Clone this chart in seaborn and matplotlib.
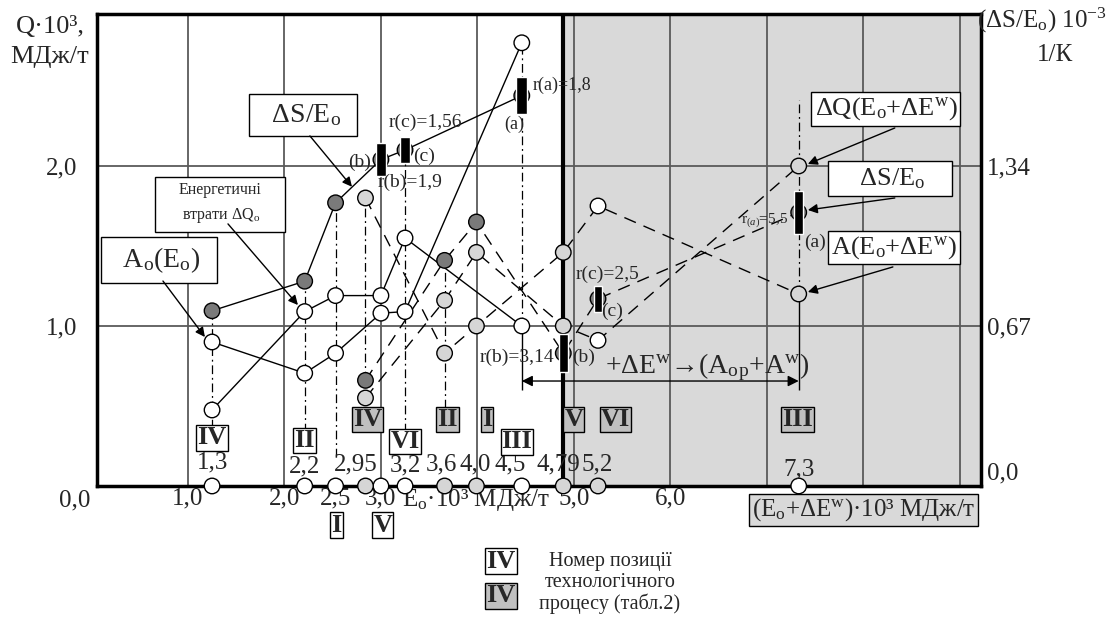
import pandas as pd
import matplotlib
matplotlib.use('Agg')
import matplotlib.pyplot as plt
import seaborn as sns

# E0*10^3 positions of the processes as drawn on the chart
e_base = [1.25, 2.21, 2.53, 3.0, 3.25, 4.46]      # white labelled processes
e_wind = [2.84, 3.66, 3.99, 4.89, 5.25, 7.33]     # grey labelled (E0 + dEw)
roman = ['IV', 'II', 'I', 'V', 'VI', 'III']
lbl_base = ['1,3', '2,2', '2,5', '3,0', '3,2', '4,5']
lbl_wind = ['2,95', '3,6', '4,0', '4,79', '5,2', '7,3']

# Q*10^3 values (left scale)
ds_base = [1.095, 1.28, 1.77, 2.04, 2.10, 2.44]
dq_base = [0.475, 1.09, 1.19, 1.19, 1.55, 1.00]
a_base = [0.90, 0.705, 0.83, 1.08, 1.09, 2.77]

ds_wind = [0.66, 1.41, 1.65, 0.83, 1.17, 1.71]
dq_wind = [0.55, 1.16, 1.46, 1.00, 0.91, 2.00]
a_wind = [1.80, 0.83, 1.00, 1.46, 1.75, 1.20]

# r markers (black bars) on the last three points of each dS series
bar_h_base = [0.21, 0.16, 0.23]
bar_h_wind = [0.24, 0.16, 0.27]

right_ticks = [0.67, 1.34]

sns.set_style('white')
plt.rcParams['font.family'] = ['Liberation Serif', 'DejaVu Serif']
plt.rcParams['mathtext.fontset'] = 'custom'
plt.rcParams['mathtext.rm'] = 'Liberation Serif'
plt.rcParams['mathtext.it'] = 'Liberation Serif:italic'
plt.rcParams['mathtext.bf'] = 'Liberation Serif:bold'

EO = r'E$_\mathrm{o}$'
DEW = r'$\Delta$E$^\mathrm{w}$'

fig = plt.figure(figsize=(11.17, 6.19), dpi=100)
ax = fig.add_axes([0.0868, 0.2149, 0.7915, 0.7625])
ax.set_xlim(0.057, 9.22)
ax.set_ylim(0, 2.95)

# shaded (E0 + dEw) area
ax.axvspan(4.89, 9.22, color='#d9d9d9', zorder=0, lw=0)
ax.axvline(4.89, color='black', lw=3, zorder=2)
for gx in range(1, 10):
    ax.axvline(gx, color='#5a5a5a', lw=1.3, zorder=1)
for gy in [1, 2]:
    ax.axhline(gy, color='#5a5a5a', lw=1.3, zorder=1)

# series lines
lines = pd.concat([
    pd.DataFrame({'E': e_base, 'Q': ds_base, 'ser': 'ds_base'}),
    pd.DataFrame({'E': e_base, 'Q': dq_base, 'ser': 'dq_base'}),
    pd.DataFrame({'E': e_base, 'Q': a_base, 'ser': 'a_base'}),
    pd.DataFrame({'E': e_wind, 'Q': ds_wind, 'ser': 'ds_wind'}),
    pd.DataFrame({'E': e_wind, 'Q': dq_wind, 'ser': 'dq_wind'}),
    pd.DataFrame({'E': e_wind, 'Q': a_wind, 'ser': 'a_wind'}),
])
for name, sub in lines.groupby('ser'):
    ls = '-' if name.endswith('base') else (0, (9, 6))
    sns.lineplot(data=sub, x='E', y='Q', ax=ax, color='black', lw=1,
                 linestyle=ls, estimator=None, sort=False, zorder=3)

# vertical dash-dot stems
stem_low_base = [0.36, 0.34, 0.18, None, 0.34, 1.0]
stem_low_wind = [0.66, 0.49, None, None, None, 1.2]
for x, top, low in zip(e_base, [max(v) for v in zip(ds_base, dq_base, a_base)], stem_low_base):
    if low is not None:
        ax.vlines(x, low, top, color='black', lw=0.9, linestyles=[(0, (7, 3, 1.5, 3))], zorder=2)
for x, top, low in zip(e_wind, [max(v) for v in zip(ds_wind, dq_wind, a_wind)], stem_low_wind):
    if low is not None:
        if x > 7:
            top = 2.41
        ax.vlines(x, low, top, color='black', lw=0.9, linestyles=[(0, (7, 3, 1.5, 3))], zorder=2)
ax.vlines([e_base[-1], e_wind[-1]], 0.6, [dq_base[-1], a_wind[-1]], color='black', lw=1, zorder=2)

# markers
fill_wind = ['light', 'light', 'light', 'light', 'white', 'light']
pts = pd.concat([
    pd.DataFrame({'E': e_base, 'Q': ds_base, 'fill': 'dark'}),
    pd.DataFrame({'E': e_base, 'Q': dq_base, 'fill': 'white'}),
    pd.DataFrame({'E': e_base, 'Q': a_base, 'fill': 'white'}),
    pd.DataFrame({'E': e_wind, 'Q': ds_wind, 'fill': 'dark'}),
    pd.DataFrame({'E': e_wind, 'Q': dq_wind, 'fill': fill_wind}),
    pd.DataFrame({'E': e_wind, 'Q': a_wind, 'fill': fill_wind}),
    pd.DataFrame({'E': e_base, 'Q': 0.0, 'fill': 'white'}),
    pd.DataFrame({'E': e_wind, 'Q': 0.0, 'fill': ['light'] * 5 + ['white']}),
])
pal = {'dark': '#7a7a7a', 'light': '#d6d6d6', 'white': 'white'}
sns.scatterplot(data=pts, x='E', y='Q', hue='fill', palette=pal, ax=ax, s=125,
                edgecolor='black', linewidth=1, legend=False, zorder=5, clip_on=False)

# r bars
ax.bar(e_base[3:], bar_h_base, bottom=[y - h / 2 for y, h in zip(ds_base[3:], bar_h_base)],
       width=0.11, color='black', zorder=6)
ax.bar(e_wind[3:], bar_h_wind, bottom=[y - h / 2 for y, h in zip(ds_wind[3:], bar_h_wind)],
       width=0.09, color='black', zorder=6)

rs = 14
ax.text(4.575, 2.506, 'r(a)=1,8', fontsize=13, ha='left', va='center', zorder=7)
ax.text(4.378, 2.26, '(a)', fontsize=13, ha='center', va='center', zorder=7)
ax.text(3.456, 2.275, 'r(c)=1,56', fontsize=rs, ha='center', va='center', zorder=7)
ax.text(2.782, 2.02, '(b)', fontsize=rs, ha='center', va='center', zorder=7)
ax.text(3.446, 2.06, '(c)', fontsize=rs, ha='center', va='center', zorder=7)
ax.text(3.30, 1.90, 'r(b)=1,9', fontsize=rs, ha='center', va='center', zorder=7)
ax.text(5.352, 1.325, 'r(c)=2,5', fontsize=rs, ha='center', va='center', zorder=7)
ax.text(5.394, 1.09, '(c)', fontsize=rs, ha='center', va='center', zorder=7)
ax.text(4.41, 0.806, 'r(b)=3,14', fontsize=rs, ha='center', va='center', zorder=7)
ax.text(5.10, 0.806, '(b)', fontsize=rs, ha='center', va='center', zorder=7)
ax.text(6.98, 1.66, r'r$_{(a)}$=5,5', fontsize=11, ha='center', va='center', zorder=7)
ax.text(7.497, 1.52, '(a)', fontsize=rs, ha='center', va='center', zorder=7)
ax.text(5.32, 0.745, '+' + DEW + '→(A$_\\mathrm{o}$$_\\mathrm{p}$+A$^\\mathrm{w}$)',
        fontsize=20, ha='left', va='center', zorder=7)
ax.annotate('', xy=(e_base[-1], 0.656), xytext=(e_wind[-1], 0.656),
            arrowprops=dict(arrowstyle='<|-|>', color='black', lw=1, mutation_scale=16,
                            shrinkA=0, shrinkB=0), zorder=7)

# roman process boxes
box_w = dict(boxstyle='square,pad=0.04', fc='white', ec='black', lw=1)
box_g = dict(boxstyle='square,pad=0.04', fc='#c0c0c0', ec='black', lw=1)
y_base_box = [0.30, 0.285, -0.244, -0.244, 0.28, 0.275]
dx_base_box = [0, 0, 0.01, 0.02, 0, -0.05]
for x, r, yb, dx in zip(e_base, roman, y_base_box, dx_base_box):
    ax.text(x + dx, yb, r, fontsize=19, fontweight='bold', ha='center', va='center',
            bbox=box_w, zorder=8)
dx_wind_box = [0.02, 0.03, 0.11, 0.11, 0.18, -0.01]
for x, r, dx in zip(e_wind, roman, dx_wind_box):
    ax.text(x + dx, 0.415, r, fontsize=19, fontweight='bold', ha='center', va='center',
            bbox=box_g, zorder=8)

# value labels above the axis
dx_base_lbl = [0, 0, None, None, 0, -0.12]
y_base_lbl = [0.15, 0.125, None, None, 0.13, 0.135]
for x, t, dx, yl in zip(e_base, lbl_base, dx_base_lbl, y_base_lbl):
    if dx is not None:
        ax.text(x + dx, yl, t, fontsize=18, ha='center', va='center', zorder=7)
dx_wind_lbl = [-0.1, -0.03, -0.01, -0.05, -0.01, 0]
for x, t, dx in zip(e_wind, lbl_wind, dx_wind_lbl):
    ax.text(x + dx, 0.135 if x < 7 else 0.105, t, fontsize=18, ha='center', va='center', zorder=7)

# series label boxes with arrows
lab_box = dict(boxstyle='square,pad=0.3', fc='white', ec='black', lw=1)
arr = dict(arrowstyle='-|>', color='black', lw=1, mutation_scale=14, shrinkA=0, shrinkB=0)
ax.text(2.197, 2.319, '  $\\Delta$S/' + EO + '  ', fontsize=20, ha='center', va='center', bbox=lab_box, zorder=8)
ax.annotate('', xy=(2.70, 1.87), xytext=(2.264, 2.188), arrowprops=arr, zorder=8)
ax.text(1.332, 1.766, 'Енергетичні\n     втрати $\\Delta$Q$_\\mathrm{o}$     ', fontsize=11.5, ha='center',
        va='center', bbox=dict(boxstyle='square,pad=0.45', fc='white', ec='black', lw=1),
        linespacing=1.6, zorder=8)
ax.annotate('', xy=(2.14, 1.131), xytext=(1.415, 1.638), arrowprops=arr, zorder=8)
ax.text(0.70, 1.4125, '  A$_\\mathrm{o}$(' + EO + ')  ', fontsize=20, ha='center', va='center',
        bbox=lab_box, zorder=8)
ax.annotate('', xy=(1.176, 0.931), xytext=(0.741, 1.281), arrowprops=arr, zorder=8)
ax.text(8.233, 2.356, '$\\Delta$Q(' + EO + '+' + DEW + ')', fontsize=19, ha='center', va='center',
        bbox=dict(boxstyle='square,pad=0.12', fc='white', ec='black', lw=1), zorder=8)
ax.annotate('', xy=(7.425, 2.0125), xytext=(8.326, 2.2375), arrowprops=arr, zorder=8)
ax.text(8.275, 1.922, '    $\\Delta$S/' + EO + '    ', fontsize=19, ha='center', va='center',
        bbox=dict(boxstyle='square,pad=0.2', fc='white', ec='black', lw=1), zorder=8)
ax.annotate('', xy=(7.425, 1.725), xytext=(8.326, 1.80), arrowprops=arr, zorder=8)
ax.text(8.316, 1.49, 'A(' + EO + '+' + DEW + ')', fontsize=19, ha='center', va='center',
        bbox=dict(boxstyle='square,pad=0.12', fc='white', ec='black', lw=1), zorder=8)
ax.annotate('', xy=(7.425, 1.2125), xytext=(8.306, 1.369), arrowprops=arr, zorder=8)

# axes, ticks
ax.set_xlabel('')
ax.set_ylabel('')
ax.set_xticks([1, 2, 2.53, 3, 5, 6])
ax.set_xticklabels(['1,0', '2,0', '2,5', '3,0', '5,0', '6,0'])
ax.set_yticks([1, 2])
ax.set_yticklabels(['1,0', '2,0'])
ax.tick_params(axis='x', length=0, pad=1, labelsize=18)
ax.tick_params(axis='y', length=0, pad=14, labelsize=18)
for sp in ax.spines.values():
    sp.set_linewidth(2.5)
    sp.set_color('black')
ax.text(-0.016, -0.0875, '0,0', fontsize=18, ha='right', va='center')
ax.text(3.99, -0.0875, EO + '·10³ МДж/т', fontsize=18, ha='center', va='center')
ax.text(8.0, -0.15, '(' + EO + '+' + DEW + ')·10³ МДж/т', fontsize=18, ha='center', va='center',
        bbox=dict(boxstyle='square,pad=0.12', fc='#d9d9d9', ec='black', lw=1))

ax2 = ax.twinx()
ax2.set_ylim(0, 2.95 * 0.67)
ax2.set_yticks(right_ticks)
ax2.set_yticklabels(['0,67', '1,34'])
ax2.tick_params(axis='y', length=0, pad=4, labelsize=18)
for sp in ax2.spines.values():
    sp.set_visible(False)
ax.text(9.28, 0.081, '0,0', fontsize=18, ha='left', va='center')

# axis titles
fig.text(50 / 1117, 1 - 27 / 619, 'Q·10³,', fontsize=19, ha='center', va='center')
fig.text(50 / 1117, 1 - 57 / 619, 'МДж/т', fontsize=19, ha='center', va='center')
fig.text(1042 / 1117, 1 - 20 / 619, '($\\Delta$S/' + EO + ') 10$^{-3}$', fontsize=18, ha='center', va='center')
fig.text(1055 / 1117, 1 - 55 / 619, '1/К', fontsize=18, ha='center', va='center')

# legend for the process boxes
fig.text(501 / 1117, 1 - 561 / 619, 'IV', fontsize=19, fontweight='bold', ha='center', va='center', bbox=box_w)
fig.text(501 / 1117, 1 - 596 / 619, 'IV', fontsize=19, fontweight='bold', ha='center', va='center', bbox=box_g)
fig.text(610 / 1117, 1 - 583 / 619, 'Номер позиції\nтехнологічного\nпроцесу (табл.2)', fontsize=14.5,
         ha='center', va='center', linespacing=1.15)

fig.savefig('out.png', dpi=100)
